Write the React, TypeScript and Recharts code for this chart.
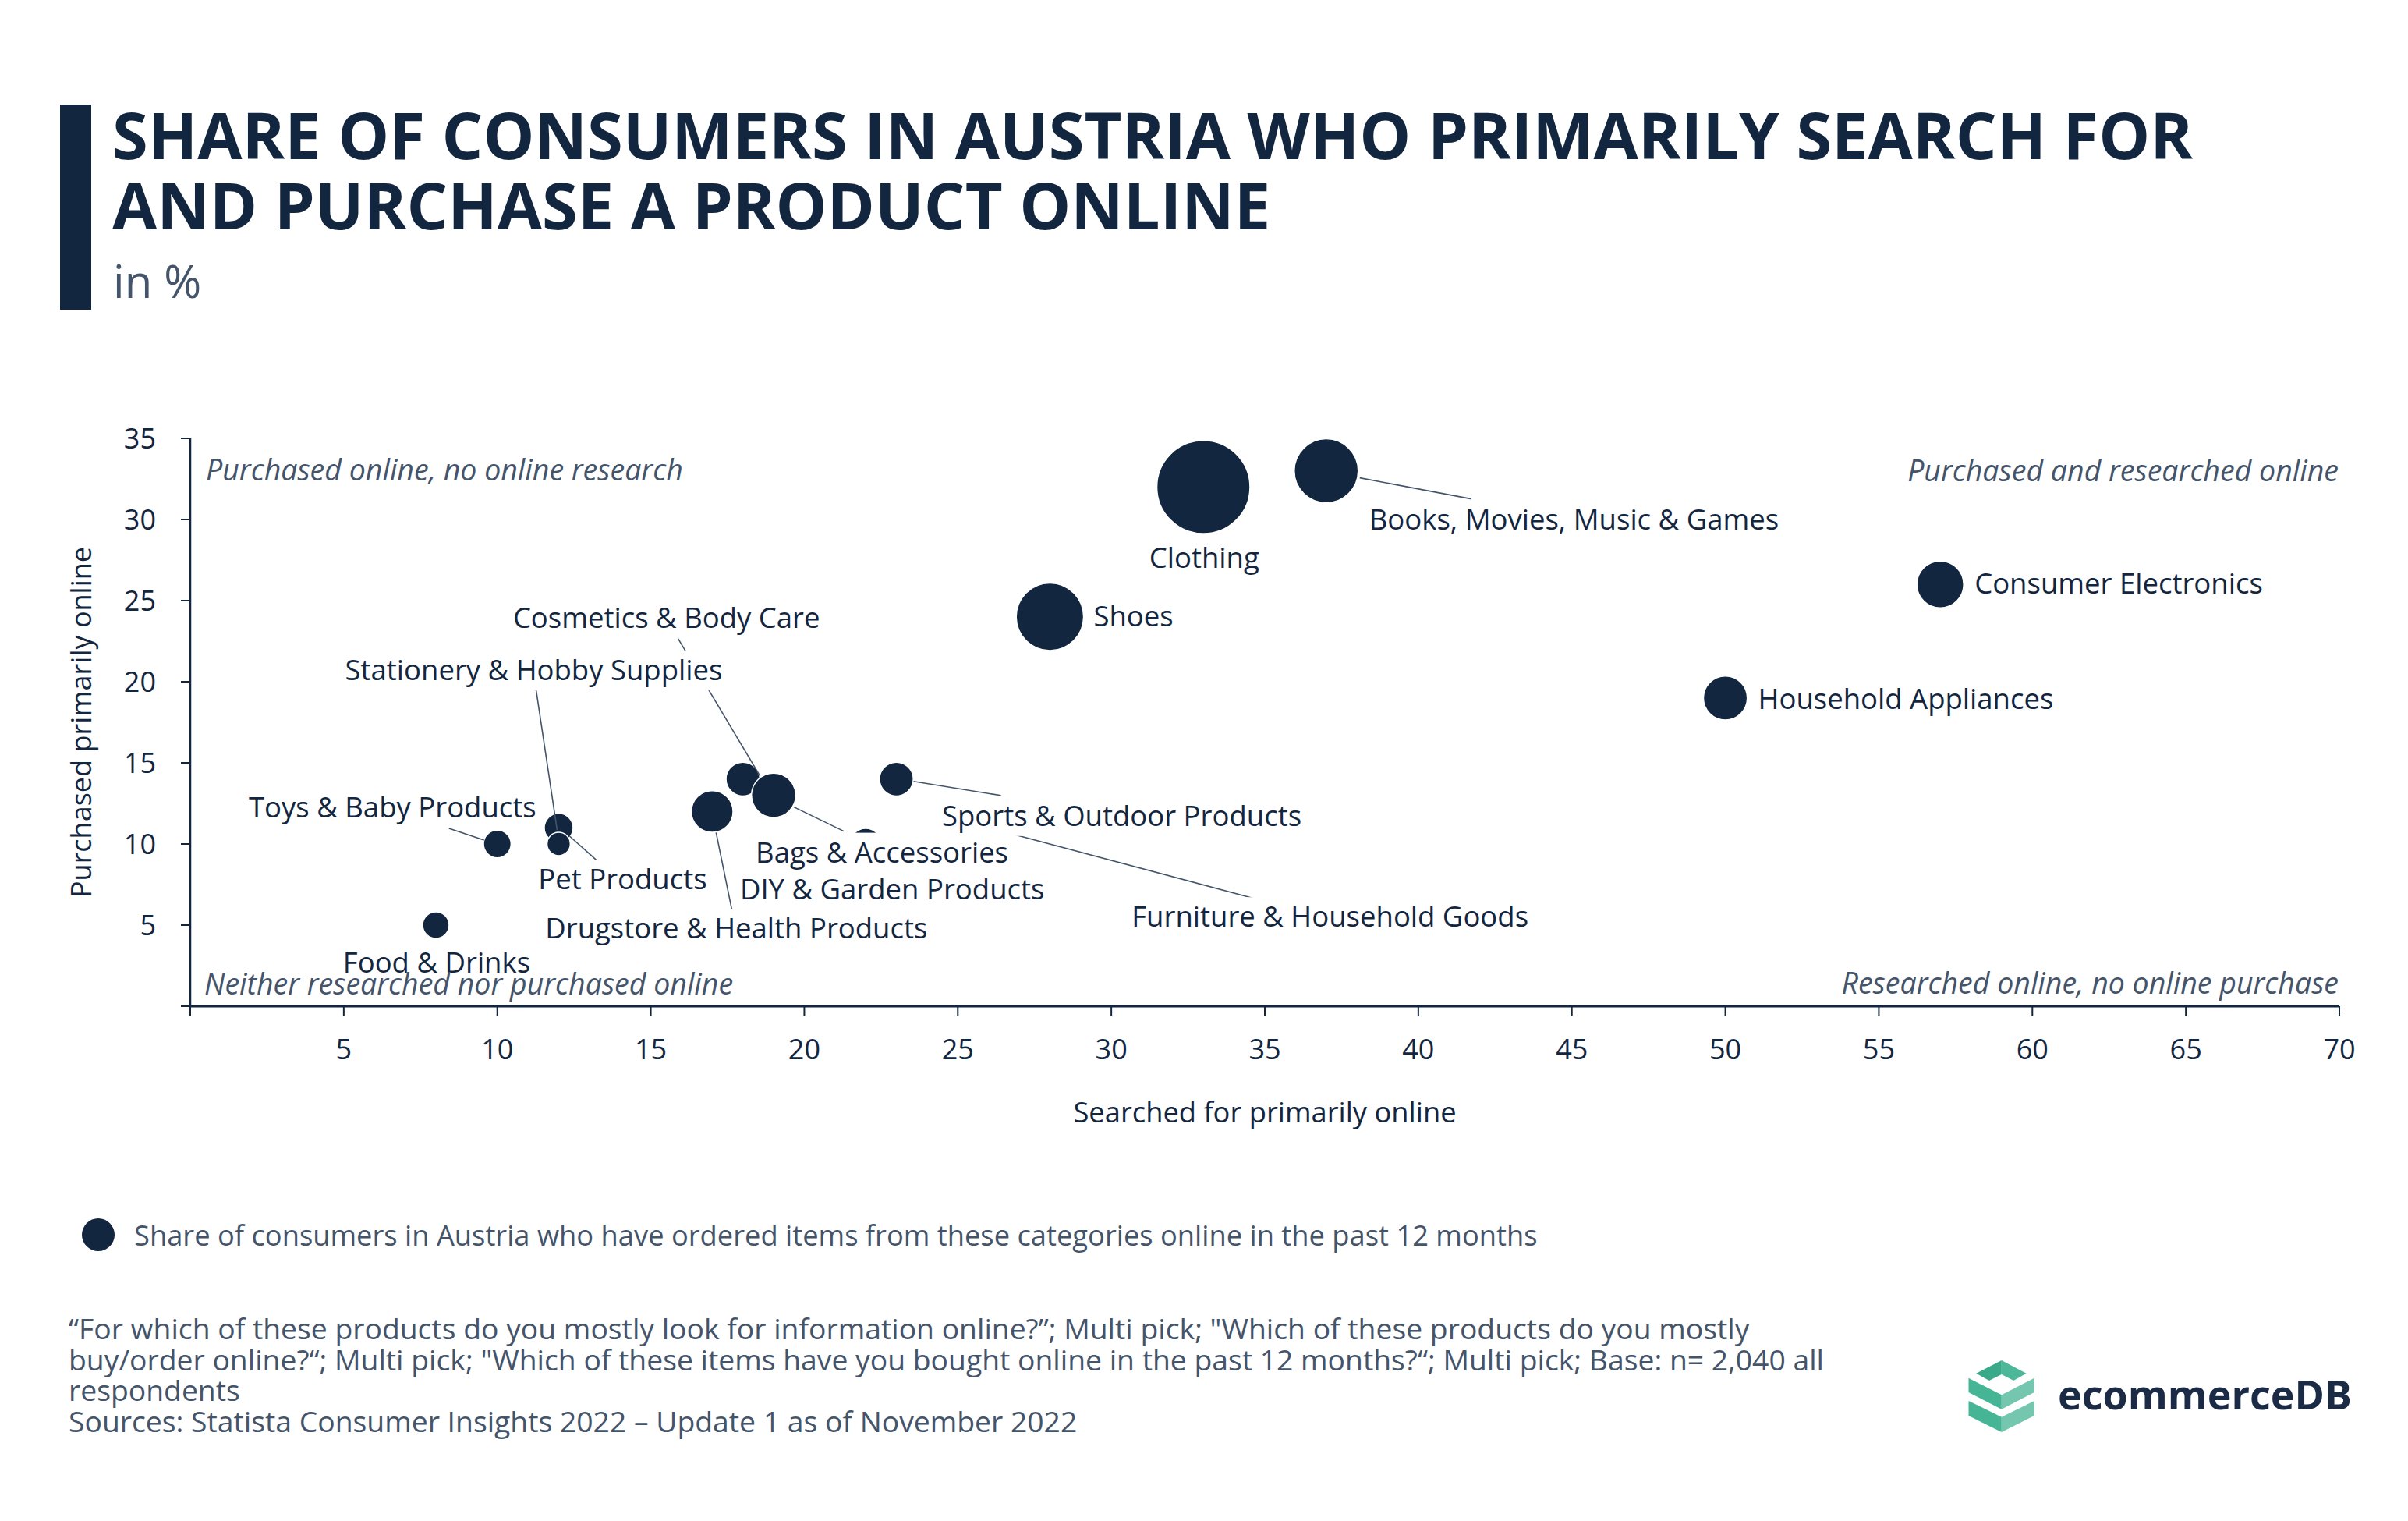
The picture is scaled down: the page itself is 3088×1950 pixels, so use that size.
import { ScatterChart, Scatter, XAxis, YAxis, ZAxis, Legend } from 'recharts';

const NAVY = '#13263f';
const SLATE = '#44546a';
const FONT = '"Open Sans", sans-serif';
const LABEL_SIZE = 36.5;
const NOTE_SIZE = 37.5;

// categories
const categories = [
  'Food & Drinks',
  'Toys & Baby Products',
  'Stationery & Hobby Supplies',
  'Pet Products',
  'Drugstore & Health Products',
  'Cosmetics & Body Care',
  'Bags & Accessories',
  'DIY & Garden Products',
  'Sports & Outdoor Products',
  'Furniture & Household Goods',
  'Shoes',
  'Clothing',
  'Books, Movies, Music & Games',
  'Consumer Electronics',
  'Household Appliances',
];
// x: searched for primarily online (%)
const searchedOnline = [8, 10, 12, 12, 17, 18, 19, 22, 23, 26, 28, 33, 37, 57, 50];
// y: purchased primarily online (%)
const purchasedOnline = [5, 10, 11, 10, 12, 14, 13, 10, 14, 11, 24, 32, 33, 26, 19];
// bubble size: ordered online in the past 12 months (area-proportional estimate)
const orderedOnline12m = [4.8, 5.2, 5.7, 3.7, 11.9, 7.8, 13.4, 6.7, 7.8, 1.1, 31.1, 59.4, 28.0, 15.0, 13.2];

const xTicks = [0, 5, 10, 15, 20, 25, 30, 35, 40, 45, 50, 55, 60, 65, 70];
const yTicks = [0, 5, 10, 15, 20, 25, 30, 35];

const quadrantNotes = [
  { searched: 0, purchased: 35, text: 'Purchased online, no online research' },
  { searched: 70, purchased: 35, text: 'Purchased and researched online' },
  { searched: 0, purchased: 0, text: 'Neither researched nor purchased online' },
  { searched: 70, purchased: 0, text: 'Researched online, no online purchase' },
];

const legendName = 'Share of consumers in Austria who have ordered items from these categories online in the past 12 months';

const footnotes = [
  '\u201CFor which of these products do you mostly look for information online?\u201D; Multi pick; "Which of these products do you mostly',
  'buy/order online?\u201C; Multi pick; "Which of these items have you bought online in the past 12 months?\u201C; Multi pick; Base: n= 2,040 all',
  'respondents',
  'Sources: Statista Consumer Insights 2022 \u2013 Update 1 as of November 2022',
];

type Anchor = 'start' | 'middle' | 'end';
interface LabelSpec {
  dx: number;
  dy: number;
  anchor: Anchor;
  line?: [number, number, number, number];
}

// label placement relative to each bubble centre (px)
const labelLayout: Record<string, LabelSpec> = {
  'Food & Drinks': { dx: 1, dy: 61, anchor: 'middle' },
  'Toys & Baby Products': { dx: 50, dy: -34, anchor: 'end', line: [-62, -20, -17, -5] },
  'Stationery & Hobby Supplies': { dx: -32, dy: -189, anchor: 'middle', line: [-29, -177, -2, 3] },
  'Pet Products': { dx: 82, dy: 58, anchor: 'middle', line: [14, -10, 50, 22] },
  'Drugstore & Health Products': { dx: 31, dy: 163, anchor: 'middle', line: [5, 27, 25, 125] },
  'Cosmetics & Body Care': { dx: -98, dy: -194, anchor: 'middle', line: [-83, -180, 22, -4] },
  'Bags & Accessories': { dx: 139, dy: 86, anchor: 'middle', line: [26, 15, 90, 46] },
  'DIY & Garden Products': { dx: 34, dy: 71, anchor: 'middle', line: [6, 19, 20, 36] },
  'Sports & Outdoor Products': { dx: 289, dy: 60, anchor: 'middle', line: [22, 3, 134, 21] },
  'Furniture & Household Goods': { dx: 438, dy: 127, anchor: 'middle', line: [8, 2, 342, 91] },
  Shoes: { dx: 56, dy: 12, anchor: 'start' },
  Clothing: { dx: 1, dy: 104, anchor: 'middle' },
  'Books, Movies, Music & Games': { dx: 55, dy: 75, anchor: 'start', line: [43, 9, 186, 36] },
  'Consumer Electronics': { dx: 44, dy: 12, anchor: 'start' },
  'Household Appliances': { dx: 42, dy: 14, anchor: 'start' },
};

const noteLayout: { dx: number; dy: number; anchor: Anchor }[] = [
  { dx: 20, dy: 54, anchor: 'start' },
  { dx: -1, dy: 55, anchor: 'end' },
  { dx: 18, dy: -15, anchor: 'start' },
  { dx: -1, dy: -16, anchor: 'end' },
];

let measureCtx: CanvasRenderingContext2D | null = null;
function measure(text: string, font: string) {
  if (!measureCtx && typeof document !== 'undefined') {
    measureCtx = document.createElement('canvas').getContext('2d');
  }
  if (!measureCtx) return text.length * LABEL_SIZE * 0.55;
  measureCtx.font = font;
  return measureCtx.measureText(text).width;
}

const LeaderShape = (props: any) => {
  const { cx, cy, payload } = props;
  const spec = labelLayout[payload.category];
  if (!spec || !spec.line) return <g />;
  const [x1, y1, x2, y2] = spec.line;
  return <line x1={cx + x1} y1={cy + y1} x2={cx + x2} y2={cy + y2} stroke={SLATE} strokeWidth={1.6} />;
};

const LabelShape = (props: any) => {
  const { cx, cy, payload } = props;
  const spec = labelLayout[payload.category];
  if (!spec) return <g />;
  const x = cx + spec.dx;
  const y = cy + spec.dy;
  const w = measure(payload.category, `${LABEL_SIZE}px "Open Sans"`);
  const left = spec.anchor === 'start' ? x : spec.anchor === 'middle' ? x - w / 2 : x - w;
  return (
    <g>
      <rect x={left - 6} y={y - 38} width={w + 12} height={51} fill="#ffffff" />
      <text x={x} y={y} textAnchor={spec.anchor} fill={NAVY} fontSize={LABEL_SIZE} fontFamily={FONT}>
        {payload.category}
      </text>
    </g>
  );
};

const NoteShape = (props: any) => {
  const { cx, cy, index } = props;
  const spec = noteLayout[index];
  return (
    <text
      x={cx + spec.dx}
      y={cy + spec.dy}
      textAnchor={spec.anchor}
      fill={SLATE}
      fontSize={NOTE_SIZE}
      fontStyle="italic"
      fontFamily={FONT}
    >
      {quadrantNotes[index].text}
    </text>
  );
};

const renderLegend = (props: any) => {
  const items = (props.payload || []).filter((p: any) => p.type !== 'none');
  return (
    <div>
      {items.map((item: any) => (
        <div key={item.value} style={{ display: 'flex', alignItems: 'center', height: 42 }}>
          <svg width={42} height={42}>
            <circle cx={21} cy={21} r={21} fill={item.color} />
          </svg>
          <span
            style={{
              marginLeft: 25,
              fontFamily: FONT,
              fontSize: 36.3,
              lineHeight: '42px',
              color: SLATE,
              whiteSpace: 'nowrap',
            }}
          >
            {item.value}
          </span>
        </div>
      ))}
    </div>
  );
};

function Logo() {
  return (
    <svg width={560} height={140} style={{ position: 'absolute', left: 2500, top: 1720 }}>
      <polygon points="34.2,40.7 66.8,24 66.8,42 50.9,50" fill="#3aa98a" />
      <polygon points="66.8,24 98.5,40.7 82.2,50 66.8,42" fill="#4db899" />
      <polygon points="24.5,46.7 66.8,68.3 66.8,86.7 24.5,65" fill="#45b595" />
      <polygon points="66.8,68.3 108.7,46.7 108.7,65 66.8,86.7" fill="#74c6ae" />
      <polygon points="24.5,76 66.8,96.7 66.8,116 24.5,95" fill="#45b595" />
      <polygon points="66.8,96.7 108.7,76 108.7,95 66.8,116" fill="#74c6ae" />
      <text x={139} y={86.7} fontFamily={FONT} fontWeight={700} fontSize={52} fill="#1b2a45">
        ecommerceDB
      </text>
    </svg>
  );
}

export default function App() {
  const points = categories.map((category, i) => ({
    category,
    searched: searchedOnline[i],
    purchased: purchasedOnline[i],
    ordered: orderedOnline12m[i],
  }));

  return (
    <div style={{ position: 'relative', width: 3088, height: 1950, background: '#ffffff', overflow: 'hidden' }}>
      <style>{'body{margin:0}'}</style>
      <div style={{ position: 'absolute', left: 77, top: 134, width: 40, height: 263, background: NAVY }} />
      <div
        style={{
          position: 'absolute',
          left: 144,
          top: 127,
          fontFamily: FONT,
          fontWeight: 700,
          fontSize: 83,
          lineHeight: '90px',
          color: NAVY,
          whiteSpace: 'nowrap',
        }}
      >
        SHARE OF CONSUMERS IN AUSTRIA WHO PRIMARILY SEARCH FOR
        <br />
        AND PURCHASE A PRODUCT ONLINE
      </div>
      <div style={{ position: 'absolute', left: 145, top: 320, fontFamily: FONT, fontSize: 58, color: SLATE }}>
        in %
      </div>

      <div style={{ position: 'absolute', left: 0, top: 0 }}>
        <ScatterChart width={3088} height={1650} margin={{ top: 562, right: 88, bottom: 260, left: 144 }}>
          <XAxis
            type="number"
            dataKey="searched"
            domain={[0, 70]}
            ticks={xTicks}
            interval={0}
            tickFormatter={(v: number) => (v === 0 ? '' : String(v))}
            height={100}
            tickSize={12}
            tickMargin={30}
            axisLine={{ stroke: NAVY, strokeWidth: 3 }}
            tickLine={{ stroke: NAVY, strokeWidth: 2 }}
            tick={{ fill: NAVY, fontSize: 36, fontFamily: FONT }}
            label={{
              value: 'Searched for primarily online',
              position: 'bottom',
              offset: 23,
              fill: NAVY,
              fontSize: 36.3,
              fontFamily: FONT,
            }}
          />
          <YAxis
            type="number"
            dataKey="purchased"
            domain={[0, 35]}
            ticks={yTicks}
            interval={0}
            tickFormatter={(v: number) => (v === 0 ? '' : String(v))}
            width={100}
            tickSize={12}
            tickMargin={32}
            axisLine={{ stroke: NAVY, strokeWidth: 2.5 }}
            tickLine={{ stroke: NAVY, strokeWidth: 2 }}
            tick={{ fill: NAVY, fontSize: 36, fontFamily: FONT }}
            label={{
              value: 'Purchased primarily online',
              angle: -90,
              position: 'left',
              offset: 40,
              fill: NAVY,
              fontSize: 36,
              fontFamily: FONT,
              style: { textAnchor: 'middle' },
            }}
          />
          <ZAxis type="number" dataKey="ordered" domain={[0, 60]} range={[0, Math.PI * 3600]} />
          <Legend
            layout="vertical"
            align="center"
            verticalAlign="middle"
            content={renderLegend}
            wrapperStyle={{ left: 105, top: 1562, width: 2200, height: 42 }}
          />
          <Scatter
            name={legendName}
            data={points}
            fill={NAVY}
            stroke="#ffffff"
            strokeWidth={1.5}
            isAnimationActive={false}
          />
          <Scatter data={points} shape={LeaderShape} legendType="none" isAnimationActive={false} />
          <Scatter data={points} shape={LabelShape} legendType="none" isAnimationActive={false} />
          <Scatter data={quadrantNotes} shape={NoteShape} legendType="none" isAnimationActive={false} />
        </ScatterChart>
      </div>

      <div
        style={{
          position: 'absolute',
          left: 88,
          top: 1683,
          fontFamily: FONT,
          fontSize: 37.3,
          lineHeight: '39.5px',
          color: SLATE,
          whiteSpace: 'nowrap',
        }}
      >
        {footnotes.map((line) => (
          <div key={line}>{line}</div>
        ))}
      </div>

      <Logo />
    </div>
  );
}
